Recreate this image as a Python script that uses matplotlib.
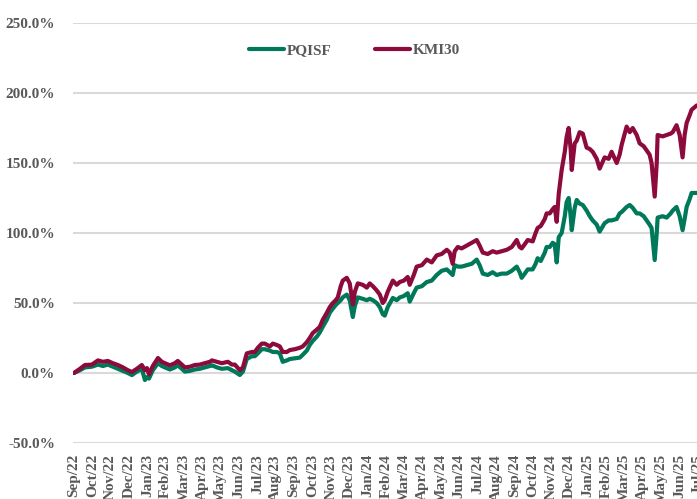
import matplotlib
matplotlib.use("Agg")
import matplotlib.pyplot as plt
import numpy as np

# months elapsed since start of Sep 2022
months = [0.00, 0.33, 0.60, 0.98, 1.31, 1.58, 1.85, 2.12, 2.40, 2.67, 2.94, 3.16, 3.43, 3.70, 3.87, 3.98, 4.09,
          4.30, 4.58, 4.79, 4.96, 5.23, 5.50, 5.66, 5.88, 6.05, 6.32, 6.59, 6.86, 7.14, 7.41, 7.52, 7.79, 8.06,
          8.39, 8.61, 8.77, 9.04, 9.21, 9.42, 9.70, 9.86, 10.02, 10.24, 10.40, 10.68, 10.84, 11.06, 11.22, 11.38,
          11.60, 11.77, 12.04, 12.31, 12.47, 12.69, 12.85, 13.02, 13.24, 13.40, 13.56, 13.78, 13.94, 14.11, 14.27,
          14.38, 14.54, 14.65, 14.87, 15.03, 15.20, 15.31, 15.47, 15.74, 15.96, 16.12, 16.29, 16.50, 16.67, 16.83,
          16.94, 17.10, 17.38, 17.59, 17.76, 17.98, 18.19, 18.30, 18.52, 18.68, 18.96, 19.23, 19.50, 19.77, 20.04,
          20.32, 20.48, 20.64, 20.75, 20.92, 21.13, 21.41, 21.68, 21.95, 22.11, 22.28, 22.55, 22.82, 23.04, 23.31,
          23.59, 23.86, 24.13, 24.29, 24.40, 24.57, 24.73, 25.00, 25.16, 25.27, 25.44, 25.66, 25.76, 25.93, 26.09,
          26.20, 26.31, 26.42, 26.58, 26.75, 26.85, 26.96, 27.07, 27.13, 27.29, 27.40, 27.56, 27.73, 27.94, 28.11,
          28.27, 28.49, 28.65, 28.92, 29.14, 29.30, 29.58, 29.74, 29.85, 30.12, 30.29, 30.45, 30.67, 30.83, 31.05,
          31.21, 31.37, 31.48, 31.65, 31.76, 31.81, 32.08, 32.30, 32.52, 32.63, 32.84, 33.01, 33.17, 33.28, 33.39,
          33.55, 33.66, 33.93, 34.20]

kmi30 = [0, 3, 5.7, 6, 9, 8, 8.6, 7, 5.7, 4, 2, 0.7, 3, 5.7, 2, 3.5, -1,
         5, 10.7, 8, 7, 5.5, 7, 8.6, 6, 4, 4.5, 5.7, 6, 7, 8, 9, 8, 7,
         8, 6, 6, 2, 4, 14, 15, 15, 18, 21, 21, 19, 21, 20, 19, 15,
         15, 16.4, 17, 18, 19, 22, 25, 28.6, 31, 33, 38, 43, 47, 50, 52,
         54, 62, 66, 68, 64, 49, 58, 64, 63, 61, 64, 62, 59, 56, 50,
         52, 58, 66, 63, 65, 66, 68.6, 63, 70, 76, 77, 81, 79, 84, 85,
         88, 86, 78, 87, 90, 89, 91, 93, 95, 91, 86, 85, 87, 86, 87,
         88, 90, 95, 90, 89, 92, 95, 94, 100, 103.6, 105, 110, 114, 114, 117,
         118.6, 108, 128, 145, 158, 168.6, 175, 160, 145, 164, 166, 172, 171, 161, 160,
         158, 153, 146, 154, 153, 158, 150, 156, 163, 176, 172, 175, 170, 164, 162,
         159, 156, 150, 126, 150, 170, 169, 170, 171, 172, 177, 170, 154, 170, 178.6,
         184, 188, 191, 192]

pqisf = [0, 2, 4, 4.5, 6, 5, 6, 4.5, 3, 1.5, 0, -1.5, 1, 3, -5, -3, -4,
         2, 7, 5, 4, 2.5, 4, 5.5, 3, 1, 1.5, 2.5, 3, 4, 5, 5.5, 4, 3,
         3.5, 2, 1, -1.4, 1, 10, 12, 12, 14, 17, 17, 16, 15, 15, 14, 8,
         9, 10, 10.5, 11, 13, 16, 20, 23, 26, 29, 33, 38, 43, 46, 48.6,
         50, 52, 54, 56, 52, 40, 48, 54, 53, 52, 53, 52, 50, 47, 42,
         41, 47, 53.6, 52, 54, 55, 57, 51, 57, 61, 62, 65, 66, 70, 73,
         74, 72, 70, 77, 76, 76, 77, 78, 81, 77, 71, 70, 72, 70, 71,
         71, 73, 76, 72, 68, 71, 74, 74, 78, 82, 80, 86, 90, 90, 93,
         92, 79, 97, 100, 112, 122, 125, 112, 102, 118, 123.6, 121, 120, 116, 112,
         109, 106, 101, 107, 109, 109, 110, 114, 115, 118.6, 120, 118, 114, 114, 112,
         109, 106, 103.6, 80.7, 100, 111, 112, 111, 114, 116, 118.6, 112, 102, 110, 118.6,
         124, 128.6, 128.6, 129]

tick_labels = ["Sep/22", "Oct/22", "Nov/22", "Dec/22", "Jan/23", "Feb/23", "Mar/23", "Apr/23", "May/23",
               "Jun/23", "Jul/23", "Aug/23", "Sep/23", "Oct/23", "Nov/23", "Dec/23", "Jan/24", "Feb/24",
               "Mar/24", "Apr/24", "May/24", "Jun/24", "Jul/24", "Aug/24", "Sep/24", "Oct/24", "Nov/24",
               "Dec/24", "Jan/25", "Feb/25", "Mar/25", "Apr/25", "May/25", "Jun/25", "Jul/25"]
y_ticks = [-50, 0, 50, 100, 150, 200, 250]

GREEN = "#00785A"
MAROON = "#8C0A3C"
TXT = "#595959"
FONT = "Liberation Serif"

fig = plt.figure(figsize=(6.97, 4.99), dpi=100)
ax = fig.add_axes([73/697, 56/499, 634/697, 420/499])

ax.plot(months, pqisf, color=GREEN, lw=3.0, label="PQISF", solid_capstyle="round", zorder=3)
ax.plot(months, kmi30, color=MAROON, lw=3.0, label="KMI30", solid_capstyle="round", zorder=3)

ax.set_ylim(-50, 250)
ax.set_xlim(-0.05, 34.5)
ax.set_yticks(y_ticks)
ax.set_yticklabels([f"{v:.1f}%" for v in y_ticks], fontfamily=FONT, fontweight="bold",
                   fontsize=11, color=TXT)
ax.set_xticks(range(len(tick_labels)))
ax.set_xticklabels(tick_labels, rotation=90, fontfamily=FONT, fontweight="bold",
                   fontsize=11, color=TXT, va="top", ha="center")
ax.tick_params(axis="both", length=0)
ax.tick_params(axis="y", pad=13)
ax.tick_params(axis="x", pad=8)
ax.grid(axis="y", color="#D9D9D9", lw=1.5, zorder=0)
ax.set_axisbelow(True)
for s in ax.spines.values():
    s.set_visible(False)

fig.legend(loc="center", bbox_to_anchor=(354.5/697, 1 - 50/499), ncol=2, frameon=False,
           prop={"family": FONT, "weight": "bold", "size": 11}, labelcolor=TXT,
           handlelength=2.3, handletextpad=0.2, columnspacing=2.8)

fig.savefig("out.png", dpi=100)
